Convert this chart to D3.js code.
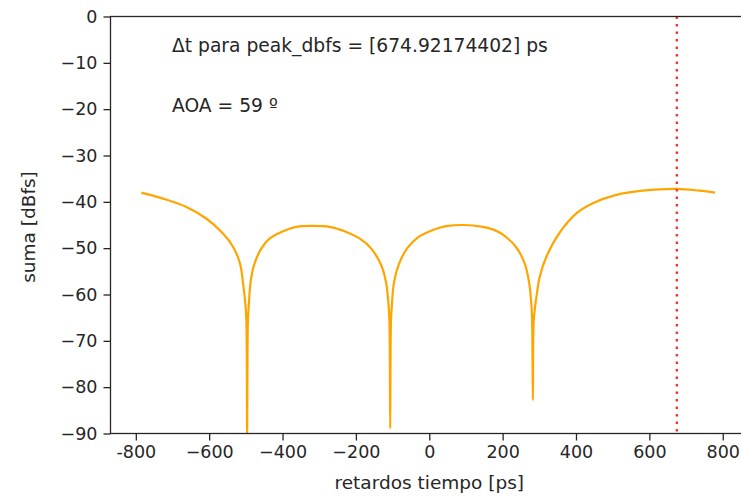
<!DOCTYPE html>
<html>
<head>
<meta charset="utf-8">
<script src="https://cdn.jsdelivr.net/npm/d3@7"></script>
<style>
  body { margin: 0; background: #fff; }
  svg text { font-family: "DejaVu Sans", sans-serif; fill: #262626; }
</style>
</head>
<body>
<svg id="chart"></svg>
<script>
// retardos (ps) and suma (dBfs)
const retardos = [
  -785, -726, -662, -608, -563, -535, -516, -508, -501, -498.5, -496.5, -494.5, -492,
  -487, -478, -458, -435, -403, -362, -321, -272, -226, -190, -158, -131, -118,
  -111, -108.5, -106.5, -104.5, -102, -96, -83, -60, -30, 0, 28, 50, 92, 146, 175,
  201, 237, 260, 272, 278.5, 280.5, 282.5, 284.5, 288, 294, 301, 319, 355, 401,
  446, 510, 582, 673, 737, 779
];
const suma = [
  -38.0, -39.3, -41.1, -43.6, -46.8, -49.7, -53.3, -57.3, -62.3, -66.0, -90.0, -66.0, -62.3,
  -57.3, -53.7, -50.1, -47.9, -46.5, -45.4, -45.2, -45.4, -46.5, -47.9, -50.1, -53.7, -57.3,
  -62.3, -66.0, -88.9, -66.0, -62.3, -57.3, -53.5, -50.0, -47.6, -46.4, -45.6, -45.2, -45.0, -45.4, -46.0,
  -47.1, -49.8, -53.3, -57.3, -62.3, -66.0, -82.8, -66.0, -63.0, -59.5, -56.2, -51.9, -46.7, -42.5,
  -40.3, -38.5, -37.6, -37.2, -37.6, -38.0
];
const peakDelay = 674.92174402;
const aoa = 59;

const xTicks = [-800, -600, -400, -200, 0, 200, 400, 600, 800];
const yTicks = [0, -10, -20, -30, -40, -50, -60, -70, -80, -90];

const W = 741, H = 496;
const plot = { left: 110.5, right: 744, top: 16.5, bottom: 433.5 };

const svg = d3.select('#chart').attr('width', W).attr('height', H);

const x = d3.scaleLinear().domain([-869, 858]).range([plot.left, plot.right]);
const y = d3.scaleLinear().domain([-90, 0]).range([plot.bottom, plot.top]);

const minus = s => String(s).replace('-', '\u2212');

svg.append('clipPath').attr('id', 'clip')
  .append('rect')
  .attr('x', plot.left).attr('y', plot.top)
  .attr('width', plot.right - plot.left).attr('height', plot.bottom - plot.top);

const data = retardos.map((r, i) => ({ r, s: suma[i] }));

const line = d3.line()
  .x(d => x(d.r))
  .y(d => y(d.s))
  .curve(d3.curveCatmullRom.alpha(0.5));

svg.append('path')
  .datum(data)
  .attr('clip-path', 'url(#clip)')
  .attr('d', line)
  .attr('fill', 'none')
  .attr('stroke', '#ffa500')
  .attr('stroke-width', 2.2);

// peak marker
svg.append('line')
  .attr('x1', x(peakDelay)).attr('x2', x(peakDelay))
  .attr('y1', plot.top).attr('y2', plot.bottom)
  .attr('stroke', '#ff3030')
  .attr('stroke-width', 2.4)
  .attr('stroke-dasharray', '2.4,5.1');

// axes
const xAxis = svg.append('g')
  .attr('transform', `translate(0,${plot.bottom})`)
  .call(d3.axisBottom(x).tickValues(xTicks).tickSize(7).tickPadding(5)
    .tickFormat(d => d === -800 ? '-800' : minus(d)));

const yAxis = svg.append('g')
  .attr('transform', `translate(${plot.left},0)`)
  .call(d3.axisLeft(y).tickValues(yTicks).tickSize(7).tickPadding(6)
    .tickFormat(d => minus(d)));

[xAxis, yAxis].forEach(g => {
  g.select('.domain').remove();
  g.selectAll('line').attr('stroke', '#262626').attr('stroke-width', 1.3);
  g.selectAll('text').attr('font-size', 17.5).style('fill', '#262626');
});

// spines
svg.append('rect')
  .attr('x', plot.left).attr('y', plot.top)
  .attr('width', plot.right - plot.left).attr('height', plot.bottom - plot.top)
  .attr('fill', 'none')
  .attr('stroke', '#262626')
  .attr('stroke-width', 1.3);

// labels
svg.append('text')
  .attr('x', x(0)).attr('y', 489)
  .attr('text-anchor', 'middle')
  .attr('font-size', 18.5)
  .text('retardos tiempo [ps]');

svg.append('text')
  .attr('transform', `translate(35,${(plot.top + plot.bottom) / 2 + 2}) rotate(-90)`)
  .attr('text-anchor', 'middle')
  .attr('font-size', 18.5)
  .text('suma [dBfs]');

svg.append('text')
  .attr('x', 172).attr('y', 52)
  .attr('font-size', 18.7)
  .text(`\u0394t para peak_dbfs = [${peakDelay}] ps`);

svg.append('text')
  .attr('x', 172).attr('y', 112)
  .attr('font-size', 18.7)
  .text(`AOA = ${aoa} \u00ba`);
</script>
</body>
</html>
